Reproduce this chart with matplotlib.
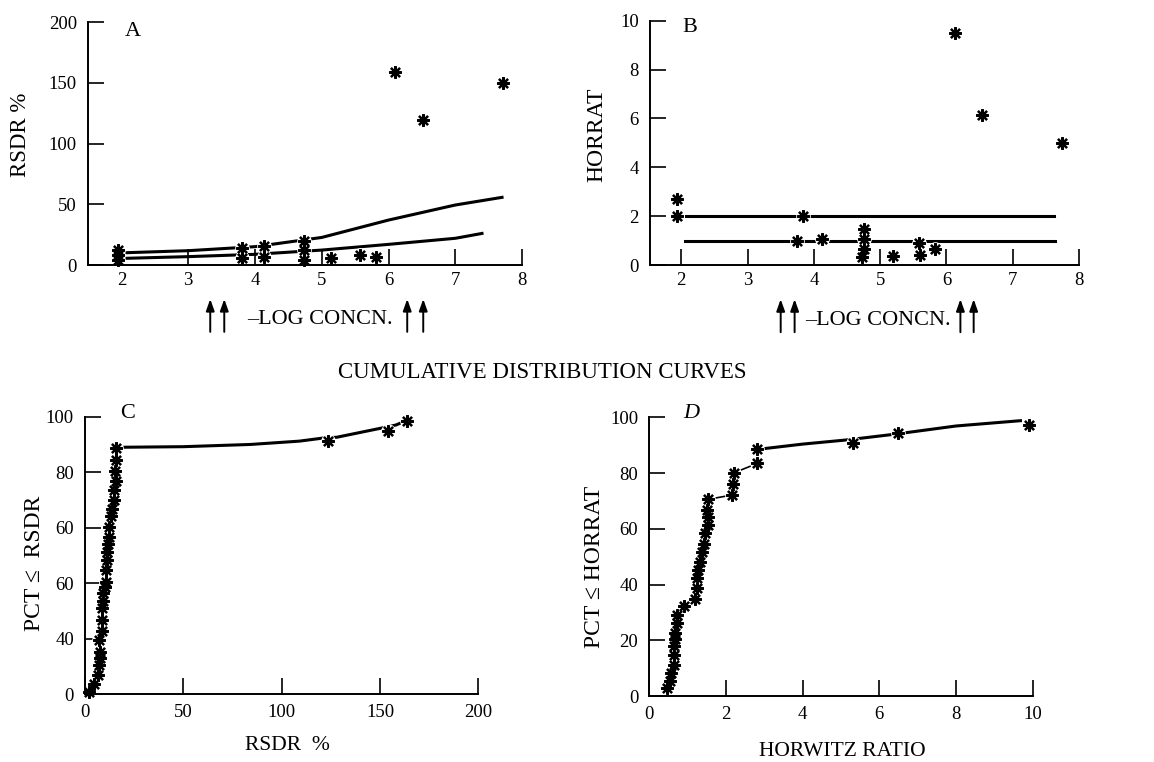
import matplotlib
matplotlib.use("Agg")
import matplotlib.pyplot as plt

plt.rcParams['font.family'] = ['Liberation Serif', 'DejaVu Serif']

# panel A: RSDR % against -log concentration
a_x = [1.95, 1.95, 1.95, 3.81, 3.81, 4.14, 4.14, 4.73, 4.73, 4.73,
       5.14, 5.57, 5.81, 6.10, 6.52, 7.72]
a_y = [12, 8, 4, 14, 6, 16, 7, 20, 12, 4,
       6, 8, 7, 159, 119, 150]
a_upper_x = [2.05, 3, 4, 5, 6, 7, 7.70]
a_upper_y = [10.1, 11.8, 15.1, 22.7, 37, 49.4, 55.7]
a_lower_x = [2.05, 3, 4, 5, 6, 7, 7.40]
a_lower_y = [5.5, 6.9, 8.8, 12.3, 17, 22, 26]
a_arrows = [3.33, 3.54, 6.28, 6.52]

# panel B: HORRAT against -log concentration
b_x = [1.94, 1.94, 3.84, 3.75, 4.13, 4.76, 4.76, 4.75, 4.73, 5.19,
       5.59, 5.60, 5.82, 6.13, 6.54, 7.74]
b_y = [2.69, 2.0, 2.0, 1.0, 1.05, 1.46, 1.07, 0.64, 0.31, 0.37,
       0.91, 0.41, 0.64, 9.5, 6.15, 5.01]
b_upper_x = [2.07, 7.62]
b_upper_y = [2, 2]
b_lower_x = [2.06, 7.64]
b_lower_y = [1, 1]
b_arrows = [3.50, 3.71, 6.21, 6.41]

# panel C: cumulative distribution of RSDR
c_x = [2.2, 4.6, 6.8, 7.2, 7.6, 7.6, 7.2, 8.5, 8.8, 8.8, 9.0, 9.3, 10.2, 10.7,
       10.7, 11.0, 11.4, 11.9, 12.4, 12.4, 13.3, 13.6, 14.8, 14.8, 15.8, 15.3,
       15.8, 15.8, 123.7, 153.9, 163.5]
c_y = [0.8, 3.6, 6.9, 10.5, 12.9, 15.3, 19.5, 22.8, 26.7, 30.9, 33.5, 36.3, 38.7,
       40.5, 44.7, 48.3, 51.3, 54.0, 56.7, 60.3, 64.1, 66.9, 70.1, 73.7, 76.8,
       80.3, 84.3, 88.8, 91.4, 95.0, 98.6]
c_curve_x = [15.8, 20, 50, 84, 109, 122, 128, 150, 158, 163.5]
c_curve_y = [88.8, 89.0, 89.2, 90.0, 91.2, 92.4, 92.6, 95.8, 97.0, 98.6]
c_tick_labels = ['0', '40', '60', '60', '80', '100']

# panel D: cumulative distribution of HORRAT
d_x = [0.45, 0.54, 0.57, 0.63, 0.64, 0.65, 0.67, 0.67, 0.71, 0.73, 0.91, 1.19,
       1.24, 1.25, 1.28, 1.32, 1.37, 1.43, 1.45, 1.52, 1.54, 1.51, 1.54, 2.15,
       2.18, 2.21, 2.82, 2.82, 5.31, 6.48, 9.90]
d_y = [2.75, 5.5, 8.1, 11.1, 14.7, 17.9, 20.3, 22.7, 26.1, 29.1, 32.4, 34.8,
       38.6, 42.2, 45.2, 48.2, 51.8, 54.5, 58.6, 61.4, 64.4, 66.7, 70.6, 72.1,
       76.1, 80.1, 83.5, 88.5, 90.7, 94.5, 97.1]
d_curve_x = [2.82, 4.0, 5.15, 6.37, 8.0, 9.68]
d_curve_y = [88.5, 90.4, 91.9, 93.9, 96.9, 98.8]

W, H = 1154, 762
fig = plt.figure(figsize=(W / 100, H / 100), dpi=100)


def px(x, y):
    return x / W, 1 - y / H


def style(ax, xlim, ylim, xticks, yticks, xpad, ypad):
    ax.set_xlim(*xlim)
    ax.set_ylim(*ylim)
    ax.set_xticks(xticks)
    ax.set_yticks(yticks)
    for s in ['top', 'right']:
        ax.spines[s].set_visible(False)
    for s in ['left', 'bottom']:
        ax.spines[s].set_linewidth(1.4)
    ax.tick_params(direction='in', length=11.5, width=1.2, labelsize=13.5)
    ax.tick_params(axis='x', pad=xpad)
    ax.tick_params(axis='y', pad=ypad)
    ax.patch.set_alpha(0)


def stars(ax, x, y):
    ax.plot(x, y, ls='none', marker='o', ms=9.5, mfc='white', mec='white',
            zorder=2.2, clip_on=False)
    ax.plot(x, y, ls='none', marker=(8, 2, 0), ms=9, mew=1.6, color='black',
            zorder=3, clip_on=False)
    ax.plot(x, y, ls='none', marker='o', ms=3, color='black', zorder=3,
            clip_on=False)


def arrows(ax, xs):
    tr = ax.get_xaxis_transform()
    for x in xs:
        ax.annotate('', xy=(x, -0.14), xytext=(x, -0.275), xycoords=tr,
                    textcoords=tr, annotation_clip=False,
                    arrowprops=dict(arrowstyle='-|>,head_length=0.7,head_width=0.25',
                                    color='black', lw=1.4, shrinkA=0, shrinkB=0))


# A
ax = fig.add_axes([0.0763, 0.6522, 0.3761, 0.3189])
style(ax, (1.5, 8), (0, 200), range(2, 9), range(0, 201, 50), 5, 8)
ax.plot(a_upper_x, a_upper_y, color='black', lw=2.2, zorder=2)
ax.plot(a_lower_x, a_lower_y, color='black', lw=2.2, zorder=2)
stars(ax, a_x, a_y)
arrows(ax, a_arrows)

# B
ax = fig.add_axes([0.5633, 0.6522, 0.3718, 0.3206])
style(ax, (1.53, 8), (0, 10), range(2, 9), range(0, 11, 2), 5, 8)
ax.plot(b_upper_x, b_upper_y, color='black', lw=2.2, zorder=2)
ax.plot(b_lower_x, b_lower_y, color='black', lw=2.2, zorder=2)
stars(ax, b_x, b_y)
arrows(ax, b_arrows)

# C
ax = fig.add_axes([0.0737, 0.0892, 0.3408, 0.3639])
style(ax, (0, 200), (0, 100), range(0, 201, 50), range(0, 101, 20), 7, 8)
ax.set_yticklabels(c_tick_labels)
ax.plot(c_x[:28], c_y[:28], color='black', lw=1.2, zorder=2)
ax.plot(c_curve_x, c_curve_y, color='black', lw=2.2, zorder=2)
stars(ax, c_x, c_y)

# D
ax = fig.add_axes([0.5627, 0.0866, 0.3322, 0.3657])
style(ax, (0, 10), (0, 100), range(0, 11, 2), range(0, 101, 20), 7, 8)
ax.plot(d_x[:28], d_y[:28], color='black', lw=1.2, zorder=2)
ax.plot(d_curve_x, d_curve_y, color='black', lw=2.2, zorder=2)
stars(ax, d_x, d_y)

# texts
fig.text(*px(133, 32), 'A', fontsize=16, ha='center', va='center')
fig.text(*px(690, 28), 'B', fontsize=16, ha='center', va='center')
fig.text(*px(128, 413), 'C', fontsize=16, ha='center', va='center')
fig.text(*px(691, 413), 'D', fontsize=16, ha='center', va='center',
         style='italic')

fig.text(*px(20, 135), 'RSDR %', fontsize=16.5, rotation=90,
         ha='center', va='center')
fig.text(*px(597, 135), 'HORRAT', fontsize=17, rotation=90,
         ha='center', va='center')
fig.text(*px(35, 563), 'PCT \u2264  RSDR', fontsize=17, rotation=90,
         ha='center', va='center')
fig.text(*px(595, 567), 'PCT \u2264 HORRAT', fontsize=17, rotation=90,
         ha='center', va='center')

fig.text(*px(320, 319), '\u2013LOG CONCN.', fontsize=16, ha='center',
         va='center')
fig.text(*px(878, 321), '\u2013LOG CONCN.', fontsize=16, ha='center',
         va='center')
fig.text(*px(542, 372), 'CUMULATIVE DISTRIBUTION CURVES', fontsize=16.5,
         ha='center', va='center')
fig.text(*px(287, 745), 'RSDR  %', fontsize=15.5, ha='center', va='center')
fig.text(*px(842, 752), 'HORWITZ RATIO', fontsize=15.5, ha='center',
         va='center')

fig.savefig('out.png', dpi=100)
